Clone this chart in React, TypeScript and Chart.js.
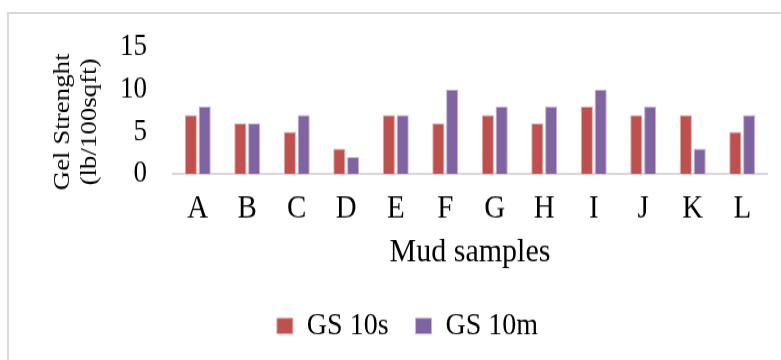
import React, { useEffect, useRef } from "react";
import { Chart, registerables } from "chart.js";

Chart.register(...registerables);

const categories = ["A", "B", "C", "D", "E", "F", "G", "H", "I", "J", "K", "L"];
const gs10s = [7, 6, 5, 3, 7, 6, 7, 6, 8, 7, 7, 5];
const gs10m = [8, 6, 7, 2, 7, 10, 8, 8, 10, 8, 3, 7];
const seriesNames = ["GS 10s", "GS 10m"];
const yMin = 0;
const yMax = 15;
const yStep = 5;
const yTitleLines = ["Gel Strenght", "(lb/100sqft)"];
const xTitle = "Mud samples";

const FONT = "'Liberation Serif', 'Times New Roman', serif";
// the reference picture is slightly taller than wide in its proportions:
// draw on a shorter canvas and let CSS stretch it vertically
const PAGE_W = 781;
const PAGE_H = 360;
const CANVAS_H = 321;

const yTitlePlugin = {
  id: "yTitlePlugin",
  afterDraw(chart: any) {
    const { ctx, chartArea } = chart;
    const cy = (chartArea.top + chartArea.bottom) / 2 + 10;
    ctx.save();
    ctx.font = `24px ${FONT}`;
    ctx.fillStyle = "#000";
    ctx.textAlign = "center";
    ctx.textBaseline = "middle";
    const xs = [63, 90];
    yTitleLines.forEach((line, i) => {
      ctx.save();
      ctx.translate(xs[i], cy);
      ctx.rotate(-Math.PI / 2);
      ctx.fillText(line, 0, 0);
      ctx.restore();
    });
    ctx.restore();
  },
};

export default function App() {
  const canvasRef = useRef<HTMLCanvasElement | null>(null);

  useEffect(() => {
    const canvas = canvasRef.current;
    if (!canvas) return;
    const chart = new Chart(canvas, {
      type: "bar",
      data: {
        labels: categories,
        datasets: [
          {
            label: seriesNames[0],
            data: gs10s,
            backgroundColor: "#C0504D",
            borderColor: "#E6AEAC",
            borderWidth: 1,
            categoryPercentage: 0.56,
            barPercentage: 0.88,
          },
          {
            label: seriesNames[1],
            data: gs10m,
            backgroundColor: "#8064A2",
            borderColor: "#C4B6DA",
            borderWidth: 1,
            categoryPercentage: 0.56,
            barPercentage: 0.88,
          },
        ],
      },
      options: {
        responsive: false,
        animation: false,
        devicePixelRatio: 1,
        layout: { padding: { left: 48, right: 14, top: 37.5, bottom: 6.3 } },
        plugins: {
          legend: {
            position: "bottom",
            labels: {
              font: { family: FONT, size: 28 },
              color: "#000",
              boxWidth: 16,
              boxHeight: 14,
              padding: 27,
            },
          },
          tooltip: { enabled: false },
          title: { display: false },
        },
        scales: {
          x: {
            grid: { display: false, drawTicks: false },
            border: { display: true, color: "#D9D9D9", width: 2 },
            ticks: {
              font: { family: FONT, size: 29, lineHeight: 1.2 },
              color: "#000",
              padding: 14,
              maxRotation: 0,
              autoSkip: false,
            },
            title: {
              display: true,
              text: xTitle,
              font: { family: FONT, size: 30, lineHeight: 0.5 },
              color: "#000",
              padding: { top: 0, bottom: 16.75 },
            },
          },
          y: {
            min: yMin,
            max: yMax,
            grid: { display: false, drawTicks: false },
            border: { display: false },
            ticks: {
              stepSize: yStep,
              font: { family: FONT, size: 27 },
              color: "#000",
              padding: 26,
            },
            afterFit: (scale: any) => {
              scale.width = 125;
            },
          },
        },
      },
      plugins: [yTitlePlugin],
    });
    return () => chart.destroy();
  }, []);

  return (
    <div
      style={{
        position: "absolute",
        left: 0,
        top: 0,
        width: PAGE_W,
        height: PAGE_H,
        overflow: "hidden",
        background: "#fff",
      }}
    >
      <div
        style={{
          position: "absolute",
          left: 7,
          top: 12,
          width: 900,
          height: 500,
          borderTop: "2px solid #D9D9D9",
          borderLeft: "2px solid #D9D9D9",
        }}
      />
      <canvas
        ref={canvasRef}
        width={PAGE_W}
        height={CANVAS_H}
        style={{
          position: "absolute",
          left: 0,
          top: 0,
          width: `${PAGE_W}px`,
          height: `${PAGE_H}px`,
        }}
      />
    </div>
  );
}
